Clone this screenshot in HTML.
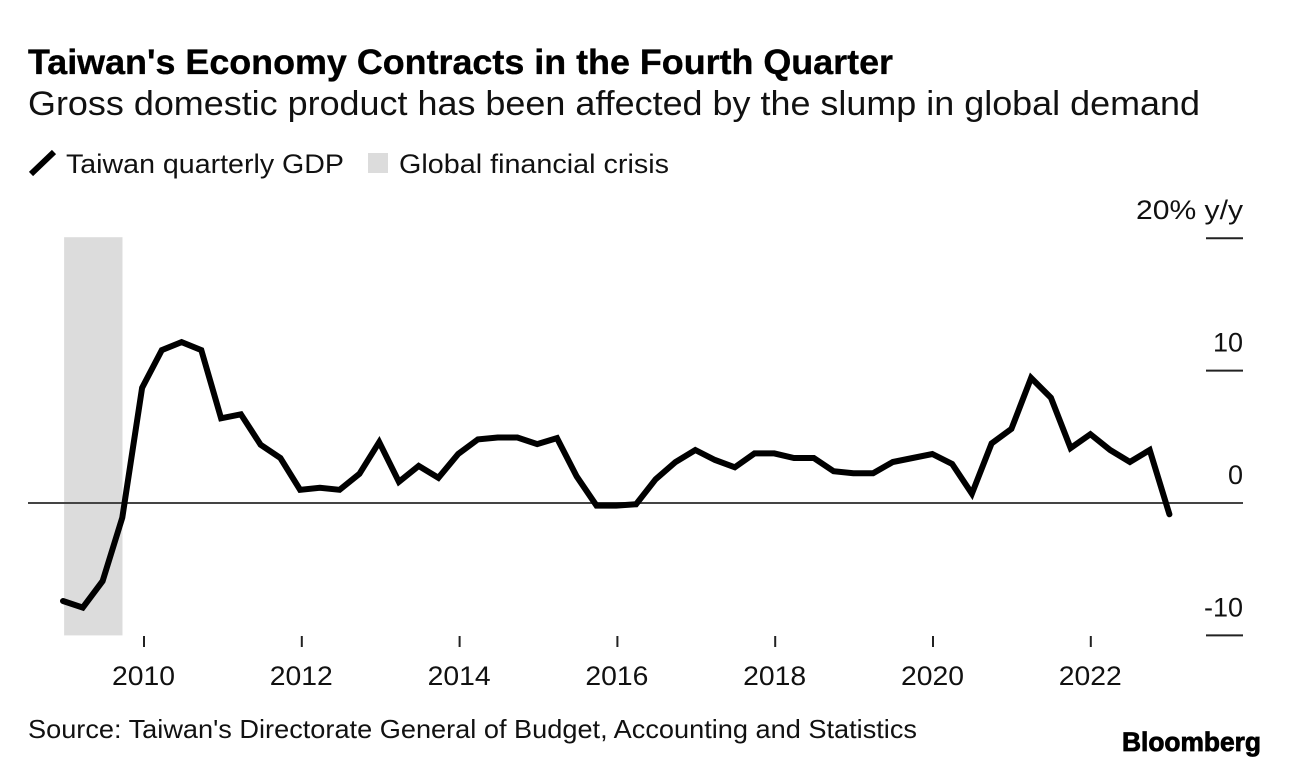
<!DOCTYPE html>
<html lang="en">
<head>
<meta charset="utf-8">
<title>Taiwan's Economy Contracts in the Fourth Quarter</title>
<style>
html,body{margin:0;padding:0;background:#fff;width:1289px;height:768px;overflow:hidden}
svg{display:block}
text{font-family:"Liberation Sans",sans-serif;fill:#111}
</style>
</head>
<body>
<svg id="chart" width="1289" height="768" viewBox="0 0 1289 768" xmlns="http://www.w3.org/2000/svg">
  <text x="28" y="74" font-size="35" font-weight="700" textLength="865" lengthAdjust="spacingAndGlyphs" style="fill:#000;stroke:#000;stroke-width:.35">Taiwan's Economy Contracts in the Fourth Quarter</text>
  <text x="28" y="115" font-size="34" textLength="1172" lengthAdjust="spacingAndGlyphs">Gross domestic product has been affected by the slump in global demand</text>
  <g>
    <line x1="31" y1="174" x2="54" y2="152" stroke="#000" stroke-width="6"/>
    <text x="66" y="173" font-size="27" textLength="278" lengthAdjust="spacingAndGlyphs">Taiwan quarterly GDP</text>
    <rect x="368" y="153" width="20" height="20" fill="#dcdcdc"/>
    <text x="399" y="173" font-size="27" textLength="270" lengthAdjust="spacingAndGlyphs">Global financial crisis</text>
  </g>
  <g id="bands"></g>
  <g id="yaxis"></g>
  <g id="xaxis"></g>
  <g id="series"></g>
  <text x="28" y="738" font-size="26" textLength="889" lengthAdjust="spacingAndGlyphs">Source: Taiwan's Directorate General of Budget, Accounting and Statistics</text>
  <text x="1122" y="751" font-size="27" font-weight="700" textLength="139" lengthAdjust="spacingAndGlyphs" style="fill:#000;stroke:#000;stroke-width:.8">Bloomberg</text>
</svg>
<script>
const startYear = 2009;
const gdpValues = [-7.4,-7.9,-5.9,-1.1,8.7,11.55,12.15,11.55,6.4,6.7,4.4,3.4,1.0,1.15,1.0,2.2,4.6,1.6,2.8,1.9,3.7,4.8,4.95,4.95,4.45,4.9,2.0,-0.2,-0.2,-0.1,1.8,3.1,4.0,3.25,2.7,3.75,3.75,3.4,3.4,2.4,2.25,2.25,3.1,3.4,3.7,2.95,0.7,4.5,5.6,9.45,7.95,4.15,5.2,4.0,3.1,4.0,-0.85];
const yTicks = [-10,0,10,20];
const yTickLabels = ["-10","0","10","20% y/y"];
const xTickYears = [2010,2012,2014,2016,2018,2020,2022];
const crisisBand = [2009,2009.74];

const NS = 'http://www.w3.org/2000/svg';
const xScale = t => 144 + (t - 2010) * 78.9;
const yScale = v => 503 - v * 13.24;
const quarterTime = i => startYear - 0.026 + i * 0.2504;

function make(tag, attrs, parent){
  const el = document.createElementNS(NS, tag);
  for (const k in attrs) el.setAttribute(k, attrs[k]);
  parent.appendChild(el);
  return el;
}

const bands = document.getElementById('bands');
const band = make('rect', {x:xScale(crisisBand[0])-1, y:yScale(20)-1, width:xScale(crisisBand[1])-xScale(crisisBand[0]), height:yScale(-10)-yScale(20)+1, fill:'#dcdcdc'}, bands);



const yaxis = document.getElementById('yaxis');
yTicks.forEach((v, i) => {
  const y = yScale(v);
  const tick = make('line', {x1:1206, x2:1243, y1:y, y2:y, stroke:'#222', 'stroke-width':2}, yaxis);
  
  
  const wide = yTickLabels[i].length > 3;
  const attrs = {x:1243, y:y-19, 'font-size':27, 'text-anchor':'end'};
  if (wide) { attrs.textLength = 107; attrs.lengthAdjust = 'spacingAndGlyphs'; }
  const label = make('text', attrs, yaxis);
  
  
  label.textContent = yTickLabels[i];
});
const zero = make('line', {x1:28, x2:1243, y1:yScale(0), y2:yScale(0), stroke:'#444', 'stroke-width':2}, yaxis);



const xaxis = document.getElementById('xaxis');
xTickYears.forEach(yr => {
  const x = xScale(yr);
  const tick = make('line', {x1:x, x2:x, y1:636, y2:647, stroke:'#222', 'stroke-width':2}, xaxis);
  
  
  const label = make('text', {x:x-0.5, y:685, 'font-size':27, 'text-anchor':'middle', textLength:63, lengthAdjust:'spacingAndGlyphs'}, xaxis);
  
  
  label.textContent = yr;
});

const series = document.getElementById('series');
const pts = gdpValues.map((v, i) => xScale(quarterTime(i)).toFixed(1) + ',' + yScale(v).toFixed(1)).join(' ');
const line = make('polyline', {points:pts, fill:'none', stroke:'#000', 'stroke-width':6, 'stroke-linejoin':'miter', 'stroke-linecap':'round'}, series);


</script>
</body>
</html>
